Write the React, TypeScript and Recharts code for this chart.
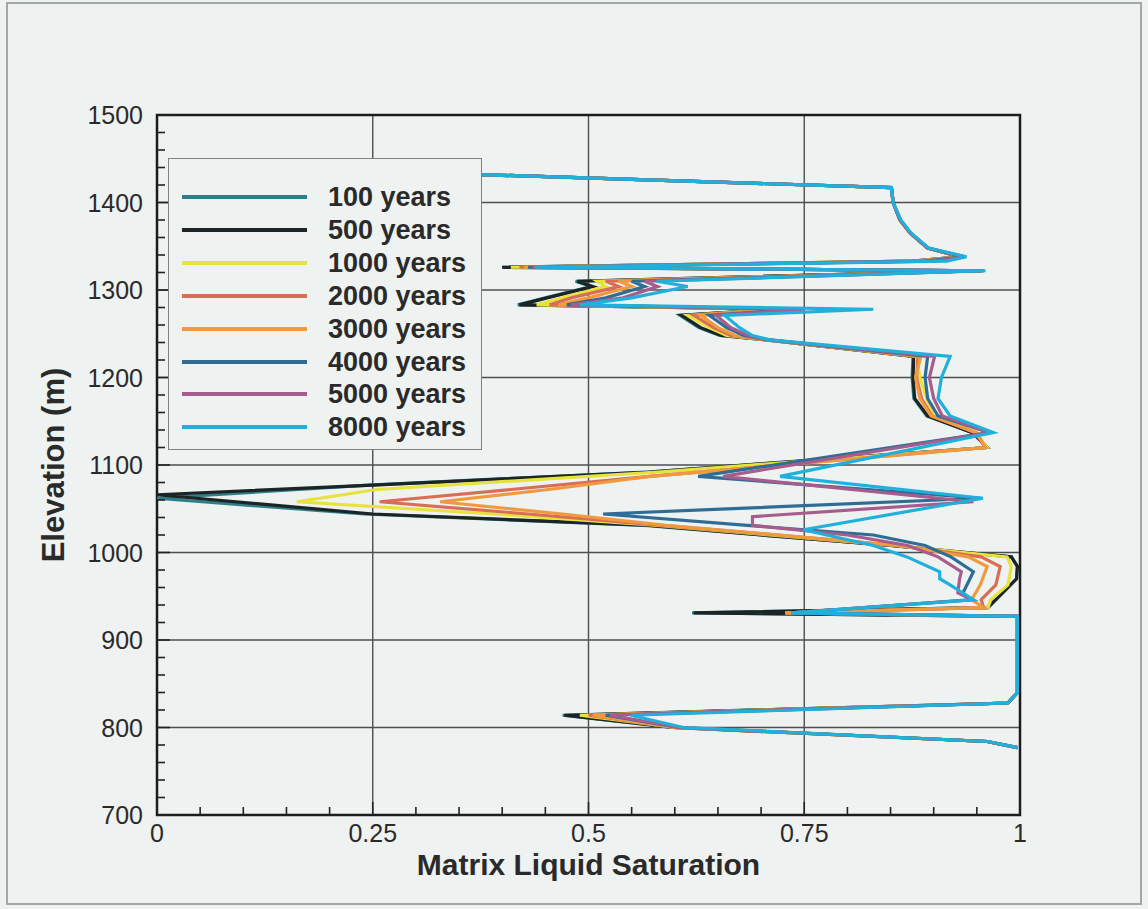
import React from 'react';
import { ScatterChart, Scatter, XAxis, YAxis, CartesianGrid, ReferenceArea, Label } from 'recharts';

const _ = null;

// Elevation (m) of profile nodes, top to bottom
const ELEVATION = [
  1443, 1417, 1400, 1380, 1365, 1348, 1338, 1333, 1326, 1322,
  1310, 1304, 1291, 1283, 1278, 1271, 1257, 1248, 1243, 1224,
  1200, 1176, 1156, 1137, 1120, 1092, 1087, 1077, 1072, 1066,
  1062, 1058, 1044, 1041, 1031, 1026, 1020, 1008, 995, 984,
  978, 970, 963, 954, 946, 937, 931, 927, 840, 828,
  814, 800, 784, 777,
];

// Matrix liquid saturation per series (null = no vertex at that elevation)
const SAT_100 = [
  0.02, 0.851, 0.853, 0.861, 0.873, 0.893, 0.93, 0.876, 0.40, 0.955,
  0.485, 0.503, 0.45, 0.418, 0.72, 0.606, 0.628, 0.652, 0.705, 0.876,
  0.875, 0.877, 0.892, 0.945, 0.962, 0.568, _, 0.245, _, _,
  0.0, _, 0.24, _, 0.565, _, 0.70, 0.85, 0.99, 0.997,
  _, 0.996, _, 0.98, _, 0.962, 0.62, 0.997, 0.997, 0.986,
  0.47, 0.597, 0.962, 0.997,
];
const SAT_500 = [
  0.02, 0.851, 0.853, 0.861, 0.873, 0.893, 0.93, 0.876, 0.40, 0.955,
  0.487, 0.505, 0.452, 0.42, 0.72, 0.608, 0.63, 0.654, 0.706, 0.877,
  0.876, 0.878, 0.893, 0.945, 0.962, 0.571, _, 0.25, _, 0.0,
  _, _, 0.25, _, 0.571, _, 0.70, 0.85, 0.99, 0.997,
  _, 0.996, _, 0.98, _, 0.963, 0.622, 0.997, 0.997, 0.986,
  0.472, 0.598, 0.962, 0.997,
];
const SAT_1000 = [
  0.02, 0.851, 0.853, 0.861, 0.873, 0.893, 0.932, 0.878, 0.41, 0.956,
  0.51, 0.52, 0.47, 0.44, 0.72, 0.615, 0.64, 0.66, 0.706, 0.88,
  0.884, 0.892, 0.90, 0.948, 0.962, 0.58, _, _, 0.255, _,
  _, 0.162, 0.39, _, 0.58, _, 0.71, 0.855, 0.985, 0.99,
  _, _, 0.986, _, 0.966, 0.963, 0.728, 0.997, 0.997, 0.986,
  0.49, 0.60, 0.962, 0.997,
];
const SAT_2000 = [
  0.02, 0.851, 0.853, 0.861, 0.873, 0.893, 0.933, 0.878, 0.42, 0.957,
  0.52, 0.535, 0.48, 0.455, 0.73, 0.622, 0.645, 0.665, 0.707, 0.882,
  0.88, 0.886, 0.898, 0.948, 0.96, _, 0.571, _, 0.41, _,
  _, 0.258, 0.43, _, 0.585, _, 0.72, 0.86, 0.955, 0.977,
  _, _, 0.972, _, 0.955, 0.958, 0.728, 0.997, 0.997, 0.986,
  0.50, 0.60, 0.962, 0.997,
];
const SAT_3000 = [
  0.02, 0.851, 0.853, 0.861, 0.873, 0.893, 0.934, 0.88, 0.425, 0.957,
  0.535, 0.55, 0.50, 0.465, 0.73, 0.63, 0.65, 0.67, 0.708, 0.885,
  0.879, 0.884, 0.897, 0.95, 0.96, _, 0.571, _, 0.454, _,
  _, 0.328, 0.47, _, 0.59, _, 0.72, 0.86, 0.94, 0.962,
  _, _, 0.954, _, 0.944, 0.958, 0.728, 0.997, 0.997, 0.986,
  0.505, 0.60, 0.962, 0.997,
];
const SAT_4000 = [
  0.02, 0.851, 0.853, 0.861, 0.873, 0.893, 0.935, 0.89, 0.43, 0.958,
  0.55, 0.565, 0.52, 0.475, 0.74, 0.64, 0.66, 0.68, 0.708, 0.893,
  0.89, 0.893, 0.905, 0.965, _, _, 0.627, _, _, _,
  0.955, _, 0.517, _, 0.684, _, 0.83, 0.89, 0.92, _,
  0.946, _, _, 0.934, 0.942, _, 0.735, 0.997, 0.997, 0.986,
  0.52, 0.605, 0.962, 0.997,
];
const SAT_5000 = [
  0.02, 0.851, 0.853, 0.861, 0.873, 0.893, 0.936, 0.90, 0.435, 0.958,
  0.565, 0.58, 0.54, 0.48, 0.75, 0.648, 0.665, 0.685, 0.709, 0.901,
  0.895, 0.90, 0.91, 0.965, _, _, 0.656, _, _, _,
  _, 0.946, _, 0.69, 0.69, _, 0.80, 0.87, 0.905, _,
  0.932, 0.93, _, 0.928, 0.945, _, 0.735, 0.997, 0.997, 0.986,
  0.525, 0.605, 0.962, 0.997,
];
const SAT_8000 = [
  0.02, 0.851, 0.853, 0.862, 0.874, 0.894, 0.938, 0.915, 0.438, 0.96,
  0.579, 0.615, 0.55, 0.49, 0.83, 0.658, 0.675, 0.69, 0.71, 0.919,
  0.909, 0.905, 0.919, 0.969, _, _, 0.722, _, _, _,
  0.957, _, _, _, _, 0.749, _, 0.83, 0.869, _,
  0.907, 0.907, 0.919, _, 0.946, _, 0.735, 0.997, 0.997, 0.986,
  0.549, 0.61, 0.963, 0.997,
];

const SERIES_NAMES = ['100 years', '500 years', '1000 years', '2000 years', '3000 years', '4000 years', '5000 years', '8000 years'];
const SERIES_COLORS = ['#2e7f88', '#1c2426', '#e8e23c', '#da6d55', '#f09a40', '#2f6d96', '#a65c8c', '#1fb0dc'];
const SERIES_VALUES = [SAT_100, SAT_500, SAT_1000, SAT_2000, SAT_3000, SAT_4000, SAT_5000, SAT_8000];

const X_LABELS = [0, 0.25, 0.5, 0.75, 1];
const Y_LABELS = [700, 800, 900, 1000, 1100, 1200, 1300, 1400, 1500];
const MINOR_DIVISIONS = 5;

const FONT = '"Liberation Sans", Arial, Helvetica, sans-serif';
const BG = '#eef2f0';
const INK = '#2a2a2a';
const X_TICK_MARGIN = 6;
const Y_TICK_MARGIN = 14;

function withMinor(majors: number[], n: number): number[] {
  const out: number[] = [];
  majors.forEach((m, i) => {
    if (i === majors.length - 1) {
      out.push(m);
      return;
    }
    const next = majors[i + 1];
    for (let k = 0; k < n; k++) out.push(+(m + ((next - m) * k) / n).toFixed(6));
  });
  return out;
}

const X_TICKS = withMinor(X_LABELS, MINOR_DIVISIONS);
const Y_TICKS = withMinor(Y_LABELS, MINOR_DIVISIONS);

const isMajor = (labels: number[], v: number) => labels.some((l) => Math.abs(l - v) < 1e-6);

const seriesPoints = (values: (number | null)[]) =>
  ELEVATION.map((elev, i) => ({ elev, sat: values[i] })).filter((p) => p.sat !== null);

const SERIES = SERIES_NAMES.map((name, i) => ({
  name,
  color: SERIES_COLORS[i],
  points: seriesPoints(SERIES_VALUES[i]),
}));

function YTick(props: any) {
  const { x, y, payload } = props;
  const v = payload.value;
  const axisX = x + Y_TICK_MARGIN;
  const major = isMajor(Y_LABELS, v);
  return (
    <g>
      <line x1={axisX} x2={axisX + (major ? 13 : 8)} y1={y} y2={y} stroke="#222" strokeWidth={1.6} />
      {major && (
        <text x={x} y={y + 9} textAnchor="end" fontSize={25} fontFamily={FONT} fill={INK}>
          {v}
        </text>
      )}
    </g>
  );
}

function XTick(props: any) {
  const { x, y, payload } = props;
  const v = payload.value;
  const axisY = y - X_TICK_MARGIN;
  const major = isMajor(X_LABELS, v);
  return (
    <g>
      <line x1={x} x2={x} y1={axisY} y2={axisY - (major ? 13 : 8)} stroke="#222" strokeWidth={1.6} />
      {major && (
        <text x={x} y={axisY + 27} textAnchor="middle" fontSize={25} fontFamily={FONT} fill={INK}>
          {v}
        </text>
      )}
    </g>
  );
}

function XTitle(props: any) {
  const vb = props.viewBox || { x: 157, y: 815, width: 863, height: 40 };
  return (
    <text x={vb.x + vb.width / 2} y={vb.y + 60} textAnchor="middle" fontSize={30} fontWeight="bold" fontFamily={FONT} fill={INK}>
      Matrix Liquid Saturation
    </text>
  );
}

function YTitle(props: any) {
  const vb = props.viewBox || { x: 97, y: 115, width: 60, height: 700 };
  const cx = 53;
  const cy = vb.y + vb.height / 2;
  return (
    <text
      x={cx}
      y={cy}
      transform={`rotate(-90, ${cx}, ${cy})`}
      textAnchor="middle"
      dominantBaseline="central"
      fontSize={31}
      fontWeight="bold"
      fontFamily={FONT}
      fill={INK}
    >
      Elevation (m)
    </text>
  );
}

const EmptyShape = () => <g />;

function LegendBox() {
  return (
    <div
      style={{
        position: 'absolute',
        left: 168,
        top: 158,
        width: 314,
        height: 292,
        boxSizing: 'border-box',
        border: '1.5px solid #808080',
        background: BG,
      }}
    >
      {SERIES.map((s, i) => (
        <div
          key={s.name}
          style={{ position: 'absolute', left: 0, top: 38 + i * 32.9 - 16, height: 32, width: 312 }}
        >
          <div style={{ position: 'absolute', left: 13, width: 125, height: 4, top: 14, background: s.color }} />
          <div
            style={{
              position: 'absolute',
              left: 159,
              top: 0,
              lineHeight: '32px',
              fontFamily: FONT,
              fontWeight: 'bold',
              fontSize: 27,
              color: INK,
              whiteSpace: 'nowrap',
            }}
          >
            {s.name}
          </div>
        </div>
      ))}
    </div>
  );
}

export default function App() {
  return (
    <div style={{ position: 'absolute', left: 0, top: 0, width: 1148, height: 909, background: BG, overflow: 'hidden' }}>
      <div
        style={{
          position: 'absolute',
          left: 6,
          top: 2,
          width: 1136,
          height: 903,
          border: '2px solid #a2a8a6',
          boxSizing: 'border-box',
        }}
      />
      <ScatterChart width={1148} height={909} margin={{ top: 115, right: 128, bottom: 54, left: 97 }}>
        <CartesianGrid horizontalValues={Y_LABELS} verticalValues={X_LABELS} stroke="#4e4e4e" strokeWidth={1.4} />
        <XAxis
          type="number"
          dataKey="sat"
          domain={[0, 1]}
          allowDataOverflow
          ticks={X_TICKS}
          interval={0}
          tick={<XTick />}
          tickLine={false}
          axisLine={false}
          tickSize={0}
          tickMargin={X_TICK_MARGIN}
          height={40}
        >
          <Label content={XTitle} />
        </XAxis>
        <YAxis
          type="number"
          dataKey="elev"
          domain={[700, 1500]}
          allowDataOverflow
          ticks={Y_TICKS}
          interval={0}
          tick={<YTick />}
          tickLine={false}
          axisLine={false}
          tickSize={0}
          tickMargin={Y_TICK_MARGIN}
          width={60}
        >
          <Label content={YTitle} />
        </YAxis>
        {SERIES.map((s) => (
          <Scatter
            key={s.name}
            name={s.name}
            data={s.points}
            fill={s.color}
            line={{ stroke: s.color, strokeWidth: 3.2 }}
            lineType="joint"
            shape={EmptyShape}
            isAnimationActive={false}
          />
        ))}
        <ReferenceArea x1={0} x2={1} y1={700} y2={1500} fill="none" stroke="#1c1c1c" strokeWidth={2.5} />
      </ScatterChart>
      <LegendBox />
    </div>
  );
}
